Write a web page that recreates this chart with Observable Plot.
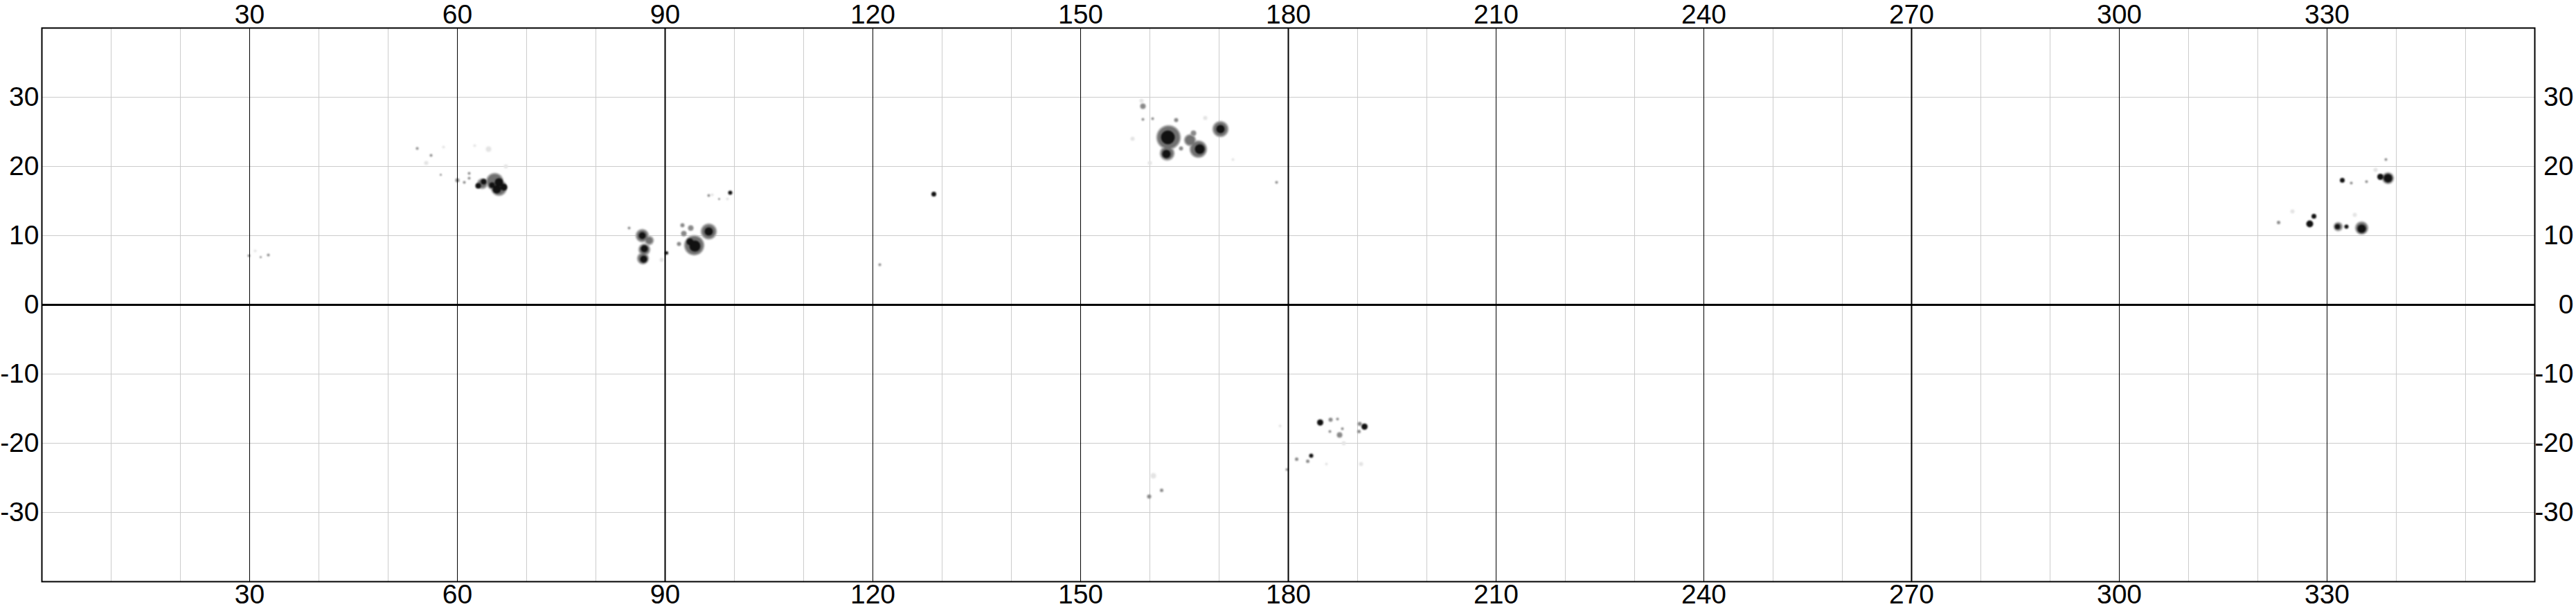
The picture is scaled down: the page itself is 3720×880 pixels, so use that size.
<!DOCTYPE html>
<html><head><meta charset="utf-8">
<script src="https://cdn.jsdelivr.net/npm/d3@7"></script>
<script src="https://cdn.jsdelivr.net/npm/@observablehq/plot@0.6"></script>
<style>body{margin:0;background:#fff}</style>
</head><body><div id="chart"></div>
<script>
// Axis tick labels
const xTicks = [30, 60, 90, 120, 150, 180, 210, 240, 270, 300, 330];
const yTicks = [-30, -20, -10, 0, 10, 20, 30];
// Grid positions
const gridLon = [10, 20, 40, 50, 70, 80, 100, 110, 130, 140, 160, 170, 190, 200, 220, 230, 250, 260, 280, 290, 310, 320, 340, 350];
const majorLon = [30, 60, 120, 150, 210, 240, 300, 330];
const quadLon = [90, 180, 270];
const gridLat = [-30, -20, -10, 10, 20, 30];

// Penumbrae (grey halos around spots): longitude, latitude, radius(px)
const penLon = [162.7, 162.5, 167.0, 170.2, 165.8, 65.4, 66.0, 63.6, 96.3, 94.2, 86.7, 87.0, 86.8, 87.7, 338.8, 335.0, 331.6];
const penLat = [24.2, 21.9, 22.5, 25.4, 23.8, 17.8, 16.9, 17.5, 10.6, 8.6, 10.0, 8.0, 6.7, 9.3, 18.3, 11.1, 11.3];
const penR   = [16, 9, 11, 10, 7, 11, 10, 6, 10, 13, 8, 7, 7, 5, 7, 8, 5];

// Umbrae (dark cores)
const umbLon = [162.6, 162.4, 167.2, 170.2, 66.0, 65.7, 66.7, 63.8, 63.0, 65.0, 99.4, 96.3, 94.3, 93.6, 86.7, 87.0, 86.9, 90.2, 128.8, 184.6, 191.0, 183.3, 338.8, 337.7, 332.2, 328.1, 327.5, 335.0, 331.5, 332.8];
const umbLat = [24.2, 21.8, 22.5, 25.4, 17.7, 16.7, 17.0, 17.8, 17.2, 17.3, 16.2, 10.6, 8.5, 9.1, 10.0, 8.1, 6.6, 7.5, 16.0, -17.0, -17.6, -21.8, 18.3, 18.5, 18.0, 12.8, 11.7, 11.0, 11.3, 11.3];
const umbR   = [10, 6, 7, 6, 6, 6, 5, 4, 4, 4, 3, 6, 8, 5, 5, 5, 5, 2.5, 3.5, 4.5, 4.5, 3, 6, 4.5, 3.5, 3.5, 5, 6, 3.5, 3];

// Small pores / grey specks
const poreLon = [60.0, 61.7, 61.7, 61.0, 54.2, 56.2, 57.6, 29.9, 31.6, 32.7, 121.0, 159.0, 163.8, 160.4, 159.0, 92.7, 93.7, 92.5, 92.0, 84.8, 96.3, 97.8, 178.3, 186.1, 187.1, 190.3, 187.4, 186.0, 187.8, 190.2, 181.2, 182.8, 179.8, 159.9, 161.7, 333.5, 335.7, 338.5, 323.0, 166.3, 164.5];
const poreLat = [18.0, 19.0, 18.3, 17.7, 22.6, 21.6, 18.8, 7.1, 6.9, 7.2, 5.8, 28.7, 26.7, 26.9, 26.8, 10.3, 11.1, 11.5, 8.8, 11.1, 15.8, 15.3, 17.7, -16.6, -16.5, -17.2, -18.8, -18.3, -17.9, -18.3, -22.3, -22.6, -23.8, -27.7, -26.8, 17.6, 17.8, 21.0, 11.9, 24.8, 22.6];
const poreR   = [3, 2, 2, 2, 2, 2, 1.5, 2, 1.5, 2, 2, 4, 3, 2, 2, 4, 4, 3, 3, 2, 2, 1.5, 2, 3, 2, 3, 4, 2, 2, 2.5, 2.5, 2.5, 2, 3, 2.5, 2, 2, 2, 2.5, 4, 3];

// Faint haze specks
const hazeLon = [55.5, 58.0, 64.5, 67.0, 157.5, 160.0, 168.0, 172.0, 158.8, 99.0, 96.8, 89.5, 178.8, 190.5, 185.5, 160.5, 325.0, 337.0, 334.0, 30.8, 62.5, 188.0];
const hazeLat = [20.5, 22.8, 22.5, 20.0, 24.0, 20.5, 27.0, 21.0, 29.5, 15.3, 15.9, 6.5, -17.5, -23.0, -23.0, -24.7, 13.5, 19.5, 13.0, 7.8, 23.0, -20.0];
const hazeR   = [3, 2, 4, 3, 3, 3, 3, 2, 3, 2, 2, 3, 2, 3, 2, 4, 3, 3, 3, 2, 2, 3];

const rows = (lon, lat, r) => lon.map((d, i) => ({lon: d, lat: lat[i], r: r[i]}));
const pen = rows(penLon, penLat, penR);
const umb = rows(umbLon, umbLat, umbR);
const pore = rows(poreLon, poreLat, poreR);
const haze = rows(hazeLon, hazeLat, hazeR);

const soft = {imageFilter: "blur(1px)"};
const fmt = d => String(d);
const fs = 39;

const chart = Plot.plot({
  width: 3720,
  height: 880,
  marginTop: 40,
  marginBottom: 40,
  marginLeft: 60,
  marginRight: 60,
  style: {fontFamily: "'Liberation Sans', Arial, sans-serif", fontSize: "39px", background: "#fff", color: "#000"},
  x: {domain: [0, 360], axis: null},
  y: {domain: [-40, 40], axis: null},
  r: {type: "identity"},
  marks: [
    Plot.ruleX(gridLon, {stroke: "#cccccc", strokeWidth: 1}),
    Plot.ruleY(gridLat, {stroke: "#cccccc", strokeWidth: 1}),
    Plot.dot(haze, {x: "lon", y: "lat", r: "r", fill: "#e4e4e4", stroke: null, ...soft}),
    Plot.dot(pen, {x: "lon", y: "lat", r: d => d.r + 2, fill: "#b8b8b8", stroke: null, ...soft}),
    Plot.dot(pen, {x: "lon", y: "lat", r: "r", fill: "#707070", stroke: null, ...soft}),
    Plot.dot(pore, {x: "lon", y: "lat", r: "r", fill: "#8a8a8a", stroke: null, ...soft}),
    Plot.dot(umb, {x: "lon", y: "lat", r: "r", fill: "#111111", stroke: null, ...soft}),
    Plot.ruleX(majorLon, {stroke: "#000", strokeWidth: 1}),
    Plot.ruleX(quadLon, {stroke: "#000", strokeWidth: 2}),
    Plot.ruleY([0], {stroke: "#000", strokeWidth: 3}),
    Plot.frame({stroke: "#000", strokeWidth: 2}),
    Plot.axisX(xTicks, {anchor: "top", tickSize: 0, tickPadding: 7, fontSize: fs, tickFormat: fmt, label: null}),
    Plot.axisX(xTicks, {anchor: "bottom", tickSize: 0, tickPadding: 4, fontSize: fs, tickFormat: fmt, label: null}),
    Plot.axisY(yTicks, {anchor: "left", tickSize: 0, tickPadding: 4, fontSize: fs, tickFormat: fmt, label: null}),
    Plot.axisY(yTicks, {anchor: "right", tickSize: 0, tickPadding: 56, textAnchor: "end", fontSize: fs, tickFormat: fmt, label: null})
  ]
});
document.getElementById("chart").appendChild(chart);
</script>
</body></html>
